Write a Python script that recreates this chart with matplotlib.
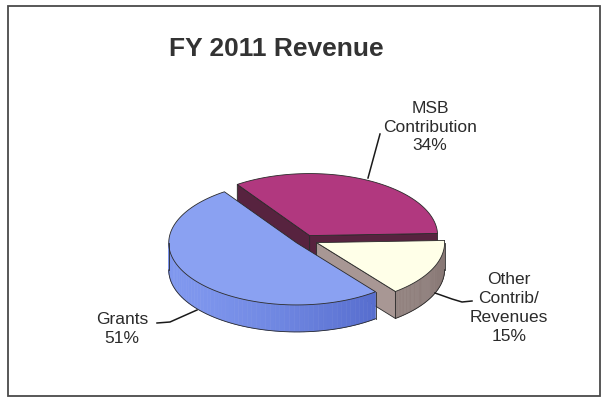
import numpy as np
import matplotlib.pyplot as plt
from matplotlib.patches import Polygon, Rectangle
import matplotlib.colors as mcolors

# Revenue shares, in the order the slices run counterclockwise
categories = ['MSB\nContribution', 'Grants', 'Other\nContrib/\nRevenues']
shares = [34, 51, 15]
pct_labels = ['34%', '51%', '15%']

top_colors = ['#b1387f', '#8aa1f2', '#ffffe8']
face_colors = ['#57233f', '#5a70d4', '#a89794']
side_light = ['#6a2a4a', '#7f97ee', '#ad9d9a']
side_dark = ['#3e1a2c', '#4056bc', '#867673']
explode = [0.08, 0.08, 0.10]

start = 2.0
cx, cy = 305, 240
rx, ry = 128, 62
depth = 27

plt.rcParams['font.family'] = ['Liberation Sans', 'DejaVu Sans']

fig = plt.figure(figsize=(6.09, 3.99), dpi=100)
ax = fig.add_axes([0, 0, 1, 1])
ax.set_xlim(0, 609)
ax.set_ylim(399, 0)
ax.axis('off')

# outer frame
ax.add_patch(Rectangle((8, 6), 592, 390, fill=False, ec='#4a4a4a', lw=1.3))

ax.text(276, 49, 'FY 2011 Revenue', ha='center', va='center',
        fontsize=19, fontweight='bold', color='#333333')


def rim(ox, oy, t, dz=0):
    t = np.radians(t)
    return ox + rx * np.cos(t), oy - ry * np.sin(t) + dz


def mix(c1, c2, w):
    a = np.array(mcolors.to_rgb(c1))
    b = np.array(mcolors.to_rgb(c2))
    return tuple(a * (1 - w) + b * w)


# slice angles
bounds = []
a = start
for s in shares:
    b = a + 360.0 * s / sum(shares)
    bounds.append((a, b))
    a = b


def draw_slice(i):
    t1, t2 = bounds[i]
    mid = np.radians((t1 + t2) / 2)
    ox = cx + explode[i] * rx * np.cos(mid)
    oy = cy - explode[i] * ry * np.sin(mid)
    edge = dict(ec='#2a2a2a', lw=0.6, joinstyle='round')

    # straight side faces that turn toward the viewer
    for t, normal in ((t1, t1 - 90), (t2, t2 + 90)):
        if np.sin(np.radians(normal)) < 0:
            px, py = rim(ox, oy, t)
            quad = [(ox, oy), (px, py), (px, py + depth), (ox, oy + depth)]
            ax.add_patch(Polygon(quad, closed=True, fc=face_colors[i], **edge))

    # curved outer side, front half only
    for lo, hi in ((-180, 0), (180, 360), (540, 720)):
        a1, a2 = max(t1, lo), min(t2, hi)
        if a2 <= a1:
            continue
        ts = np.linspace(a1, a2, 60)
        for k in range(len(ts) - 1):
            w = (1 - np.cos(np.radians(ts[k] - 200))) / 2
            xa, ya = rim(ox, oy, ts[k])
            xb, yb = rim(ox, oy, ts[k + 1])
            quad = [(xa, ya), (xb, yb), (xb, yb + depth), (xa, ya + depth)]
            shade = mix(side_light[i], side_dark[i], w)
            ax.add_patch(Polygon(quad, closed=True, fc=shade, ec=shade, lw=0.4))
        xs, ys = rim(ox, oy, ts)
        ax.plot(xs, ys + depth, color='#2a2a2a', lw=0.6)
        for t in (a1, a2):
            px, py = rim(ox, oy, t)
            ax.plot([px, px], [py, py + depth], color='#2a2a2a', lw=0.6)

    # top face
    ts = np.linspace(t1, t2, 120)
    xs, ys = rim(ox, oy, ts)
    pts = [(ox, oy)] + list(zip(xs, ys))
    ax.add_patch(Polygon(pts, closed=True, fc=top_colors[i], **edge))


# back to front
for i in (0, 2, 1):
    draw_slice(i)

txt = dict(ha='center', va='center', fontsize=12.5, color='#2b2b2b',
           linespacing=1.32)
ax.text(430, 127, categories[0] + '\n' + pct_labels[0], **txt)
ax.text(509, 308, categories[2] + '\n' + pct_labels[2], **txt)
ax.text(122, 329, categories[1] + '\n' + pct_labels[1], **txt)

# leader lines
lc = dict(color='#1a1a1a', lw=1.1)
ax.plot([380, 368], [134, 178], **lc)
ax.plot([435, 452, 462, 472], [293, 299, 302, 301], **lc)
ax.plot([157, 170, 197], [323, 322, 310], **lc)

fig.savefig('out.png', dpi=100)
